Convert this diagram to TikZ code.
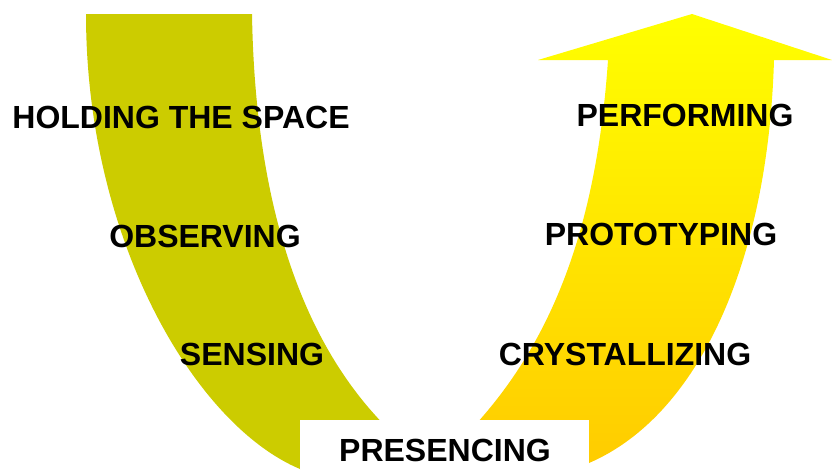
\documentclass[tikz,border=0pt]{standalone}
\usepackage{fontspec}
\setmainfont{Liberation Sans}
\definecolor{bandolive}{HTML}{CCCC00}
\definecolor{riseyellow}{HTML}{FFFF00}
\definecolor{risegold}{HTML}{FFCC00}
\begin{document}
\begin{tikzpicture}[x=1pt, y=-1pt,
    stage/.style={anchor=base, inner sep=0pt, font=\fontsize{32}{36}\bfseries\selectfont}]
  \useasboundingbox (0,0) rectangle (832,469);

  \fill[bandolive] (86,14) -- (252,14)
    .. controls (255,200) and (300,350) .. (400,440)
    -- (300,469)
    .. controls (195,425) and (86,240) .. (86,14) -- cycle;

  \shade[top color=riseyellow, bottom color=risegold]
    (538,60) -- (692,14) -- (832,60) -- (774,60)
    .. controls (768,260) and (700,415) .. (589,463)
    -- (440,460)
    .. controls (540,370) and (595,250) .. (608,60) -- cycle;

  \fill[white] (300,420) rectangle (589,469);

  \node[stage] (holding) at (181,128) {HOLDING THE SPACE};
  \node[stage] (observing) at (205,247) {OBSERVING};
  \node[stage] (sensing) at (252,365) {SENSING};
  \node[stage] (presencing) at (445,461) {PRESENCING};
  \node[stage] (crystallizing) at (625,365) {CRYSTALLIZING};
  \node[stage] (prototyping) at (661,245) {PROTOTYPING};
  \node[stage] (performing) at (685,126) {PERFORMING};
\end{tikzpicture}
\end{document}
